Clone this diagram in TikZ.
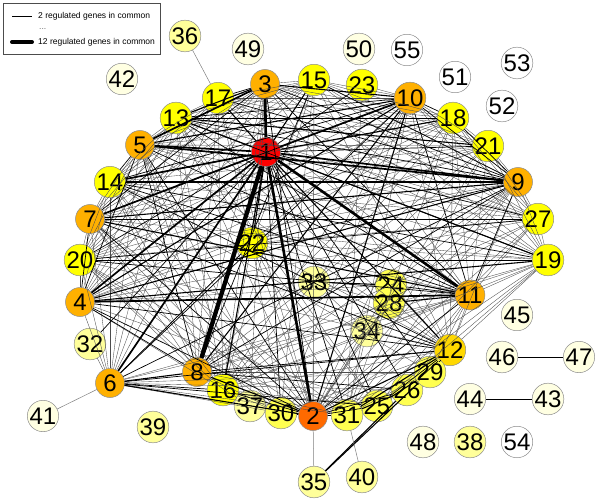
\documentclass[tikz,border=0pt]{standalone}
\usepackage{fontspec}
\setmainfont{Liberation Sans}
\begin{document}
\begin{tikzpicture}[x=1pt,y=-1pt,
  nd/.style={circle,draw=black!45,line width=0.5pt,minimum size=29pt,inner sep=0pt,font=\fontsize{24}{24}\selectfont},
  e1/.style={line width=0.35pt,black!70},
  e2/.style={line width=0.7pt,black},
  e3/.style={line width=1.1pt,black},
  e4/.style={line width=1.7pt,black},
  e5/.style={line width=2.6pt,black},
  e6/.style={line width=4.3pt,black},
  eg/.style={line width=0.5pt,black!50},
  lg/.style={font=\fontsize{8.5}{10}\selectfont,anchor=west,inner sep=0pt}]
\useasboundingbox (0,0) rectangle (600,503);
\definecolor{cred}{HTML}{FF0000}
\definecolor{corr}{HTML}{FF6A00}
\definecolor{cor}{HTML}{FFB000}
\definecolor{cgold}{HTML}{FFD800}
\definecolor{cyel}{HTML}{FFFF00}
\definecolor{clyel}{HTML}{FFFF50}
\definecolor{cpale}{HTML}{FFFF9A}
\definecolor{cvpale}{HTML}{FFFFE2}
% legend
\node[draw=black!70,line width=0.6pt,minimum width=157pt,minimum height=51pt,inner sep=0pt,anchor=north west] (legend) at (3,3) {};
\coordinate (la1) at (12,16); \coordinate (lb1) at (32,16);
\coordinate (la2) at (12,42); \coordinate (lb2) at (32,42);
\draw[line width=0.5pt] (la1) -- (lb1);
\draw[line width=4pt,line cap=round] (la2) -- (lb2);
\node[lg] (lt1) at (38,16) {2 regulated genes in common};
\node[lg,text=black!60] (ltd) at (39,29) {...};
\node[lg] (lt2) at (38,42) {12 regulated genes in common};
% nodes
\node[nd,fill=cred] (n1) at (266,152) {1};
\node[nd,fill=corr] (n2) at (313,416) {2};
\node[nd,fill=cor] (n3) at (265,84) {3};
\node[nd,fill=cor] (n4) at (80,302) {4};
\node[nd,fill=cor] (n5) at (140,145) {5};
\node[nd,fill=cor] (n6) at (110,383) {6};
\node[nd,fill=cor] (n7) at (90,219) {7};
\node[nd,fill=cor] (n8) at (197,372) {8};
\node[nd,fill=cor] (n9) at (518,182) {9};
\node[nd,fill=cor] (n10) at (410,98) {10};
\node[nd,fill=cor] (n11) at (470,295) {11};
\node[nd,fill=cgold] (n12) at (450,350) {12};
\node[nd,fill=cyel] (n13) at (176,118) {13};
\node[nd,fill=cyel] (n14) at (110,182) {14};
\node[nd,fill=cyel] (n15) at (314,80) {15};
\node[nd,fill=cyel] (n16) at (223,390) {16};
\node[nd,fill=cyel] (n17) at (218,98) {17};
\node[nd,fill=cyel] (n18) at (453,118) {18};
\node[nd,fill=cyel] (n19) at (548,260) {19};
\node[nd,fill=cyel] (n20) at (80,260) {20};
\node[nd,fill=cyel] (n21) at (488,146) {21};
\node[nd,fill=cyel] (n22) at (252,243) {22};
\node[nd,fill=cyel] (n23) at (362,85) {23};
\node[nd,fill=clyel] (n24) at (391,285) {24};
\node[nd,fill=clyel] (n25) at (377,406) {25};
\node[nd,fill=clyel] (n26) at (407,390) {26};
\node[nd,fill=cyel] (n27) at (538,219) {27};
\node[nd,fill=clyel] (n28) at (389,303) {28};
\node[nd,fill=clyel] (n29) at (430,372) {29};
\node[nd,fill=clyel] (n30) at (281,413) {30};
\node[nd,fill=clyel] (n31) at (347,415) {31};
\node[nd,fill=cpale] (n32) at (90,344) {32};
\node[nd,fill=cpale] (n33) at (314,282) {33};
\node[nd,fill=cpale] (n34) at (367,331) {34};
\node[nd,fill=cpale] (n35) at (314,482) {35};
\node[nd,fill=cpale] (n36) at (185,36) {36};
\node[nd,fill=cpale] (n37) at (250,406) {37};
\node[nd,fill=cpale] (n38) at (470,442) {38};
\node[nd,fill=cpale] (n39) at (153,427) {39};
\node[nd,fill=cpale] (n40) at (362,477) {40};
\node[nd,fill=cvpale] (n41) at (43,416) {41};
\node[nd,fill=cvpale] (n42) at (122,79) {42};
\node[nd,fill=cvpale] (n43) at (548,399) {43};
\node[nd,fill=cvpale] (n44) at (470,399) {44};
\node[nd,fill=cvpale] (n45) at (517,315) {45};
\node[nd,fill=cvpale] (n46) at (502,357) {46};
\node[nd,fill=cvpale] (n47) at (579,357) {47};
\node[nd,fill=cvpale] (n48) at (423,442) {48};
\node[nd,fill=cvpale] (n49) at (248,49) {49};
\node[nd,fill=cvpale] (n50) at (359,49) {50};
\node[nd,fill=white] (n51) at (455,77) {51};
\node[nd,fill=white] (n52) at (502,106) {52};
\node[nd,fill=white] (n53) at (517,63) {53};
\node[nd,fill=white] (n54) at (517,442) {54};
\node[nd,fill=white] (n55) at (407,50) {55};
% edges
\foreach \a/\b in {2/9,2/13,2/14,2/15,2/17,2/20,2/22,2/21,2/18,2/29,2/37,2/19,2/27,2/24,2/34,2/28,2/33,3/4,3/6,3/8,3/12,3/14,3/15,3/18,3/19,3/20,3/21,3/22,3/27,3/37,4/6,4/13,4/14,4/15,4/16,4/18,4/20,4/21,4/22,4/24,4/27,4/25,4/17,5/6,5/7,5/12,5/13,5/15,5/17,5/18,5/19,5/20,5/21,5/27,5/16,5/30,6/7,6/11,6/13,6/14,6/15,6/17,6/19,6/20,6/22,6/26,6/29,6/30,6/31,6/32,7/8,7/13,7/14,7/15,7/16,7/17,7/18,7/19,7/21,7/20,7/31,8/11,8/13,8/14,8/16,8/17,8/19,8/21,8/25,8/29,8/18,8/27,8/20,9/12,9/16,9/19,9/20,9/21,9/27,9/31,9/30,9/24,10/12,10/15,10/16,10/17,10/19,10/20,10/21,10/22,10/27,10/30,10/31,10/23,10/33,11/12,11/15,11/16,11/17,11/18,11/19,11/21,11/22,11/27,11/34,11/25,11/29,11/26,12/13,12/15,12/16,12/18,12/19,12/20,12/24,12/22,12/30,13/14,13/15,13/16,13/17,13/20,13/22,13/27,13/25,14/15,14/16,14/17,14/18,14/20,14/21,14/22,14/27,14/29,15/16,15/17,15/18,15/19,15/20,15/21,15/22,15/27,15/30,16/17,16/18,16/19,16/20,16/21,16/22,16/27,16/25,16/31,17/18,17/19,17/20,17/21,17/22,17/27,18/19,18/20,18/21,18/22,18/27,18/31,19/21,19/22,19/27,19/31,19/25,20/21,20/22,20/30,21/22,21/27,21/31,22/27,22/30,22/31,22/25,23/31,24/28,28/33,33/34,34/31,25/26,26/29,31/25,31/29,37/16,30/16,30/37,8/37,8/30,20/31,7/30,27/31,3/16,5/37,14/30}
  \draw[e1] (n\a) -- (n\b);
\foreach \a/\b in {1/20,1/21,1/27,1/23,1/30,1/31,1/25,1/26,1/29,1/32,2/4,2/5,2/7,2/3,2/11,2/16,2/25,2/26,2/30,2/31,3/9,3/17,3/7,3/11,4/5,4/7,4/8,4/12,5/11,5/14,5/8,6/12,6/9,6/10,6/16,7/27,7/10,7/12,8/9,8/12,8/15,9/10,9/11,9/13,9/15,9/18,10/11,10/13,10/14,10/18,11/13,11/14,11/20,12/14,12/29,12/26,12/25,13/19,14/19,17/9,20/19,20/27,22/9,22/6,24/11,28/34,6/25,8/26,12/34,13/18}
  \draw[e2] (n\a) -- (n\b);
\foreach \a/\b in {1/15,1/13,1/17,1/22,1/12,1/16,1/19,1/18,2/8,2/6,4/10,5/10,7/11,6/8,3/13,12/31,25/29,26/31,35/29,35/26,11/28,33/24,10/8,4/9,4/19,7/9,13/21,3/10,2/10,2/12}
  \draw[e3] (n\a) -- (n\b);
\foreach \a/\b in {1/5,1/9,1/4,1/14,1/6,1/7,1/10,5/9,4/11,9/14,3/5}
  \draw[e4] (n\a) -- (n\b);
\foreach \a/\b in {1/2,1/3,1/11}
  \draw[e5] (n\a) -- (n\b);
\draw[e6] (n1) -- (n8);
\foreach \a/\b in {17/36,6/41,2/35,31/40}
  \draw[eg] (n\a) -- (n\b);
\draw[e2] (n46) -- (n47);
\draw[e2] (n44) -- (n43);
\end{tikzpicture}
\end{document}
